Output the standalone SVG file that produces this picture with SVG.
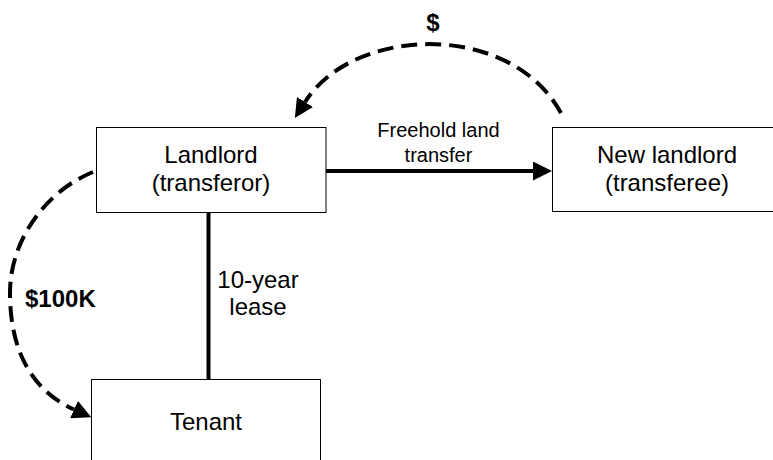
<svg xmlns="http://www.w3.org/2000/svg" width="773" height="460" viewBox="0 0 773 460">
  <style>
    .box { fill: #ffffff; stroke: #000000; stroke-width: 1; }
    .label { font-family: "Liberation Sans", Arial, sans-serif; font-size: 24px; fill: #000000; text-anchor: middle; }
    .small { font-size: 20px; }
    .bold { font-weight: bold; }
    .solid { fill: none; stroke: #000000; stroke-width: 4; }
    .dashed { fill: none; stroke: #000000; stroke-width: 4; stroke-dasharray: 16 8; }
  </style>
  <defs>
    <marker id="head" markerUnits="userSpaceOnUse" viewBox="0 0 19 19" markerWidth="19" markerHeight="19" refX="0" refY="9.5" orient="auto">
      <path d="M0,0 L19,9.5 L0,19 z" fill="#000000"/>
    </marker>
  </defs>
  <rect width="773" height="460" fill="#ffffff"/>

  <!-- connectors -->
  <g id="connectors">
    <!-- freehold transfer -->
    <path class="solid" d="M326,171 L533,171" marker-end="url(#head)"/>
    <!-- lease link -->
    <path class="solid" d="M208.5,212 L208.5,379"/>
    <!-- payment from new landlord -->
    <path class="dashed" d="M561,113 C510,20 353,26 305,102" marker-end="url(#head)"/>
    <!-- payment to tenant -->
    <path class="dashed" d="M93,172 C48,190 10,238 10,293 C10,355 35,392 74,409.5" marker-end="url(#head)"/>
  </g>

  <g id="node-landlord">
    <rect class="box" x="96.5" y="127.5" width="229.5" height="85"/>
    <text class="label" x="211" y="163">Landlord</text>
    <text class="label" x="211" y="191">(transferor)</text>
  </g>

  <g id="node-new-landlord">
    <rect class="box" x="552.5" y="127.5" width="229" height="84"/>
    <text class="label" x="667" y="163">New landlord</text>
    <text class="label" x="667" y="191">(transferee)</text>
  </g>

  <g id="node-tenant">
    <rect class="box" x="91.5" y="379.5" width="229" height="100"/>
    <text class="label" x="206" y="430">Tenant</text>
  </g>

  <g id="labels">
    <text class="label small" x="438.5" y="137">Freehold land</text>
    <text class="label small" x="438.5" y="162">transfer</text>
    <text class="label" x="258" y="288">10-year</text>
    <text class="label" x="258" y="315">lease</text>
    <text class="label bold" x="25" y="307" style="text-anchor:start">$100K</text>
    <text class="label bold" x="433" y="31">$</text>
  </g>
</svg>
